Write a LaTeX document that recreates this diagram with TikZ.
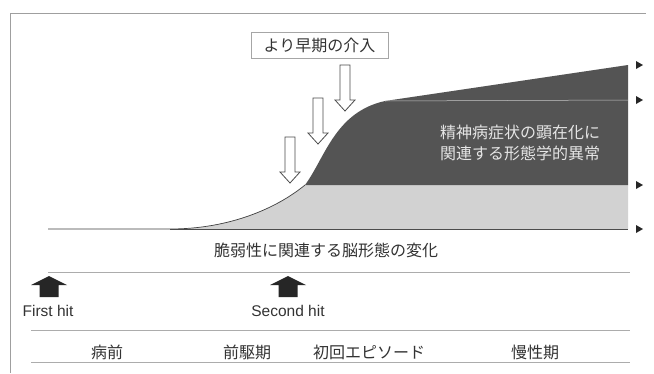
\documentclass[tikz,border=0pt]{standalone}
\usepackage{fontspec}
\setmainfont{Liberation Sans}
\newfontfamily\jp{Noto Sans CJK JP}
\usetikzlibrary{arrows.meta}
\definecolor{darkreg}{HTML}{545454}
\definecolor{lightreg}{HTML}{D2D2D2}
\definecolor{ink}{HTML}{333333}
\tikzset{
  frameline/.style={draw=gray!75, line width=0.9pt},
  rule/.style={draw=gray!65, line width=0.9pt},
  jtext/.style={font=\jp\fontsize{16}{20}\selectfont, text=ink, inner sep=0pt},
  jwhite/.style={font=\jp\fontsize{16}{21}\selectfont, text=white!90!black, inner sep=0pt, align=center},
  lat/.style={font=\fontsize{15.5}{18}\selectfont, text=ink, inner sep=0pt},
  endtip/.pic={\fill[black!85] (-4,-4) -- (3,0) -- (-4,4) -- cycle;},
  hollowarrow/.pic={\draw[draw=gray!60!black, fill=white, line width=0.8pt]
     (-5,0) -- (5,0) -- (5,35) -- (10,35) -- (0,46) -- (-10,35) -- (-5,35) -- cycle;},
  blockup/.pic={\fill[black!85]
     (0,0) -- (18,9) -- (9.5,9) -- (9.5,21) -- (-9.5,21) -- (-9.5,9) -- (-18,9) -- cycle;}
}
\begin{document}
\begin{tikzpicture}[x=1pt,y=-1pt]
\useasboundingbox (0,0) rectangle (654,373);
\fill[white] (0,0) rectangle (654,373);
% frame
\draw[frameline] (10,373) -- (10,13) -- (646,13);
% regions
\fill[lightreg] (170,229) .. controls (230,229) and (277,208) .. (305,185) -- (628,185) -- (628,229) -- cycle;
\fill[darkreg] (305,185) .. controls (325,158) and (335,112) .. (385,101) -- (628,65) -- (628,185) -- cycle;
% curve and baseline
\draw[draw=gray!50!black, line width=0.7pt] (48,229) -- (170,229) .. controls (230,229) and (277,208) .. (305,185);
\draw[draw=gray!60!black, line width=0.6pt] (170,229) -- (628,229);
% line at the shoulder level
\coordinate (r2) at (385,101);
\draw[draw=gray!45, line width=0.5pt] (r2) -- (628,100);
% right arrow tips
\pic (t1) at (640,65) {endtip};
\pic (t2) at (640,100) {endtip};
\pic (t3) at (640,185) {endtip};
\pic (t4) at (640,229) {endtip};
% intervention box and hollow arrows
\node[jtext, draw=gray!70, line width=0.8pt, minimum width=137pt, minimum height=26pt] (early) at (319.5,45) {より早期の介入};
\pic (h1) at (290,137) {hollowarrow};
\pic (h2) at (318,98) {hollowarrow};
\pic (h3) at (345,65) {hollowarrow};
% labels in regions
\node[jwhite] (morph) at (520,143) {精神病症状の顕在化に\\関連する形態学的異常};
\node[jtext] (vuln) at (326,250) {脆弱性に関連する脳形態の変化};
% rules
\draw[rule] (48,272) -- (630,272);
\draw[rule] (31,330) -- (630,330);
\draw[rule] (31,362) -- (630,362);
% hits
\pic (b1) at (49,276) {blockup};
\pic (b2) at (288,276) {blockup};
\node[lat] (first) at (48,311) {First hit};
\node[lat] (second) at (288,311) {Second hit};
% phases
\node[jtext] (p1) at (107,352) {病前};
\node[jtext] (p2) at (247,352) {前駆期};
\node[jtext] (p3) at (369,352) {初回エピソード};
\node[jtext] (p4) at (535,352) {慢性期};
\end{tikzpicture}
\end{document}
